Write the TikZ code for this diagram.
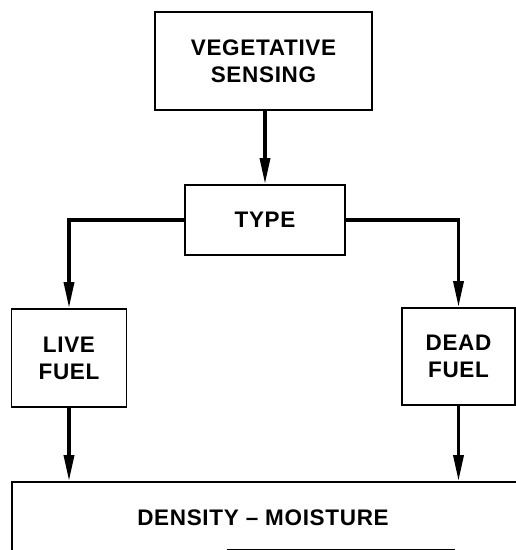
\documentclass[tikz,border=0pt]{standalone}
\usepackage{fontspec}
\setmainfont{Liberation Sans}[LetterSpace=3]
\usetikzlibrary{arrows.meta}
\begin{document}
\begin{tikzpicture}[x=1pt,y=-1pt,
  box/.style={draw,line width=1.8pt,rectangle,inner sep=0pt,align=center,
    font=\fontsize{22.5}{27}\selectfont\bfseries},
  label/.style={inner sep=0pt,font=\fontsize{22.5}{27}\selectfont\bfseries},
  flow/.style={line width=3.4pt,-{Triangle[length=26pt,width=10pt]}}]
\useasboundingbox (0,0) rectangle (516,550);
\clip (0,0) rectangle (516,550);
\fill[white] (0,0) rectangle (516,550);

% boxes
\node[box,minimum width=217pt,minimum height=98pt] (veg) at (263.5,61) {VEGETATIVE\\SENSING};
\node[box,minimum width=160pt,minimum height=70pt] (type) at (265,220) {TYPE};
\node[box,minimum width=115pt,minimum height=98pt] (live) at (69,358) {LIVE\\FUEL};
\node[box,minimum width=113pt,minimum height=97pt] (dead) at (458.5,356.5) {DEAD\\FUEL};
\node[box,minimum width=540pt,minimum height=120pt] (dm) at (282,542) {};
\node[label] (dmtext) at (263,518) {DENSITY -- MOISTURE};

% partial rule near the lower edge
\coordinate (ruleA) at (227,549);
\coordinate (ruleB) at (455,549);
\draw[line width=1pt] (ruleA) -- (ruleB);

% connectors
\draw[flow] (veg.south -| type.north) -- (type.north);
\draw[flow] (type.west) -| (live.north);
\draw[flow] (type.east) -| (dead.north);
\draw[flow] (live.south) -- (live.south |- dm.north);
\draw[flow] (dead.south) -- (dead.south |- dm.north);
\end{tikzpicture}
\end{document}
